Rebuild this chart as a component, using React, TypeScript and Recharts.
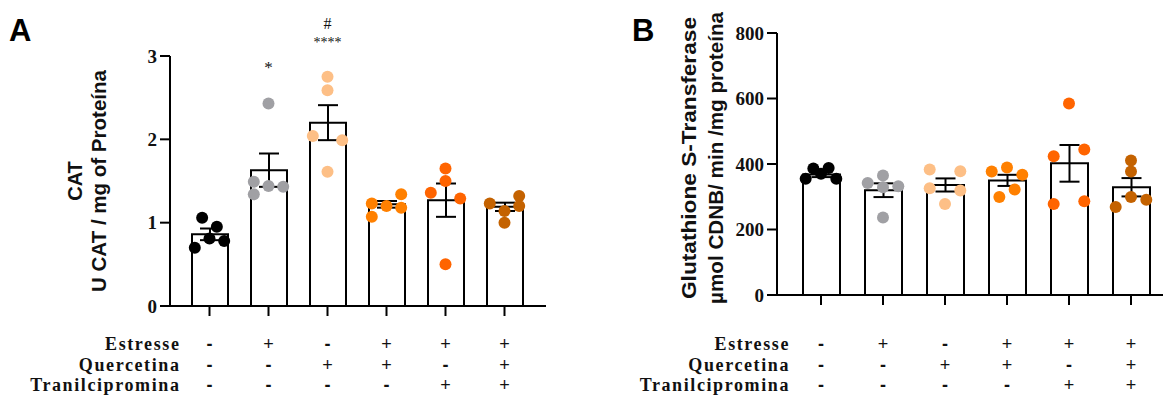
import React from "react";
import { ComposedChart, Bar, ErrorBar, Scatter, XAxis, YAxis, ReferenceDot } from "recharts";

const SERIF = '"Liberation Serif", "Times New Roman", serif';
const SANS = '"Liberation Sans", Arial, sans-serif';

// treatment table under each panel
const groups = ["Controle", "Estresse", "Quercetina", "Estresse+Quercetina", "Estresse+Tranil", "Estresse+Querc+Tranil"];
const estresse = ["-", "+", "-", "+", "+", "+"];
const quercetina = ["-", "-", "+", "+", "-", "+"];
const tranilcipromina = ["-", "-", "-", "-", "+", "+"];
const rowNames = ["Estresse", "Quercetina", "Tranilcipromina"];

const dotColors = ["#000000", "#a0a0a4", "#fdbf86", "#ff8000", "#ff6400", "#c46200"];

// panel A: CAT
const catMean = [0.86, 1.63, 2.2, 1.22, 1.27, 1.19];
const catSem = [0.07, 0.2, 0.21, 0.04, 0.2, 0.05];
const catPts = [
  [1.06, 0.95, 0.81, 0.78, 0.7],
  [2.43, 1.49, 1.44, 1.43, 1.34],
  [2.75, 2.59, 2.04, 1.99, 1.61],
  [1.23, 1.2, 1.34, 1.18, 1.07],
  [1.65, 1.5, 1.36, 1.29, 0.5],
  [1.32, 1.23, 1.2, 1.14, 1.0],
];
const catJitter = [
  [-0.5, 0.5, 0, 1, -1],
  [0, -1, 0, 1, -1],
  [0, 0, -1, 1, 0],
  [-1, 0, 1, 1, -1],
  [0, 0, -1, 1, 0],
  [1, -1, 1, 0, 0],
];
const catTicks = [0, 1, 2, 3];
const catNotes = [
  { g: groups[1], y: 2.87, text: "*", size: 17 },
  { g: groups[2], y: 3.17, text: "****", size: 14 },
  { g: groups[2], y: 3.39, text: "#", size: 16 },
];

// panel B: GST
const gstMean = [368, 320, 336, 350, 402, 329];
const gstSem = [8, 21, 20, 17, 56, 28];
const gstPts = [
  [386, 388, 370, 355, 355],
  [365, 342, 329, 332, 237],
  [383, 378, 326, 319, 278],
  [389, 377, 367, 322, 299],
  [585, 424, 444, 278, 286],
  [411, 377, 299, 291, 269],
];
const gstJitter = [
  [-0.5, 0.5, 0, -1, 1],
  [0, -1, 0, 1, 0],
  [-1, 1, -1, 1, 0],
  [0, -1, 1, 0.5, -0.5],
  [0, -1, 1, -1, 1],
  [0, 0, 0, 1, -1],
];
const gstTicks = [0, 200, 400, 600, 800];

function buildRows(mean: number[], sem: number[], pts: number[][], jit: number[][]) {
  return groups.map((g, i) => {
    const row: any = { g, i, mean: mean[i], sem: sem[i] };
    pts[i].forEach((v, k) => {
      row[`p${k}`] = v;
      row[`j${k}`] = jit[i][k];
    });
    return row;
  });
}

const makeDot = (k: number, spacing: number) => (props: any) => {
  const { cx, cy, payload } = props;
  if (cx == null || cy == null) return <g />;
  return <circle cx={cx + payload[`j${k}`] * spacing} cy={cy} r={6} fill={dotColors[payload.i]} />;
};

const YTick = (props: any) => {
  const { x, y, payload } = props;
  return (
    <text
      x={x}
      y={y}
      textAnchor="end"
      dominantBaseline="central"
      fontFamily={SERIF}
      fontWeight="bold"
      fontSize={19}
      fill="#111"
    >
      {payload.value}
    </text>
  );
};

const makeSignTick = (rowOffsets: number[], labelGap: number) => (props: any) => {
  const { x, y, payload } = props;
  const i = payload?.index ?? props.index;
  const signs = [estresse[i], quercetina[i], tranilcipromina[i]];
  return (
    <g>
      {signs.map((s, r) => (
        <text
          key={r}
          x={x}
          y={y + rowOffsets[r]}
          textAnchor="middle"
          dominantBaseline="central"
          fontFamily={SANS}
          fontWeight={s === "-" ? "bold" : "normal"}
          fontSize={18}
          fill="#111"
        >
          {s}
        </text>
      ))}
      {i === 0 &&
        rowNames.map((n, r) => (
          <text
            key={n}
            x={x - labelGap}
            y={y + rowOffsets[r]}
            textAnchor="end"
            dominantBaseline="central"
            fontFamily={SERIF}
            fontWeight="bold"
            fontSize={18}
            letterSpacing={1.6}
            fill="#111"
          >
            {n}
          </text>
        ))}
    </g>
  );
};

const makeYTitle = (lines: string[], xs: number[], dy: number, lens: number[]) => (props: any) => {
  const vb = props.viewBox || {};
  const cy = (vb.y ?? 0) + (vb.height ?? 0) / 2 + dy;
  return (
    <g>
      {lines.map((l, n) => {
        const x = (vb.x ?? 0) + xs[n];
        return (
          <text
            key={n}
            x={x}
            y={cy}
            transform={`rotate(-90 ${x} ${cy})`}
            textAnchor="middle"
            dominantBaseline="central"
            fontFamily={SANS}
            fontWeight="bold"
            fontSize={20}
            textLength={lens[n] || undefined}
            lengthAdjust="spacingAndGlyphs"
            fill="#111"
          >
            {l}
          </text>
        );
      })}
    </g>
  );
};

type PanelProps = {
  left: number;
  width: number;
  top: number;
  right: number;
  yWidth: number;
  xHeight: number;
  padding: { left: number; right: number };
  barSize: number;
  spacing: number;
  data: any[];
  yMax: number;
  ticks: number[];
  title: string[];
  titleX: number[];
  titleDy: number;
  titleLen: number[];
  rowOffsets: number[];
  labelGap: number;
  notes: { g: string; y: number; text: string; size: number }[];
  letter: string;
  letterX: number;
};

function Panel(p: PanelProps) {
  const axisStyle = { stroke: "#000", strokeWidth: 2 };
  return (
    <div style={{ position: "absolute", left: p.left, top: 0 }}>
      <ComposedChart
        width={p.width}
        height={403}
        data={p.data}
        margin={{ top: p.top, right: p.right, left: 0, bottom: 0 }}
      >
        <XAxis
          dataKey="g"
          height={p.xHeight}
          padding={p.padding}
          axisLine={axisStyle}
          tickLine={axisStyle}
          tickSize={10}
          interval={0}
          tick={makeSignTick(p.rowOffsets, p.labelGap)}
        />
        <YAxis
          width={p.yWidth}
          domain={[0, p.yMax]}
          ticks={p.ticks}
          axisLine={axisStyle}
          tickLine={axisStyle}
          tickSize={10}
          tickMargin={3}
          tick={<YTick />}
          label={{ content: makeYTitle(p.title, p.titleX, p.titleDy, p.titleLen) }}
        />
        <Bar dataKey="mean" barSize={p.barSize} fill="#fff" stroke="#000" strokeWidth={2} isAnimationActive={false}>
          <ErrorBar dataKey="sem" width={10} stroke="#000" strokeWidth={2} direction="y" />
        </Bar>
        {[0, 1, 2, 3, 4].map((k) => (
          <Scatter key={k} dataKey={`p${k}`} shape={makeDot(k, p.spacing)} isAnimationActive={false} />
        ))}
        {p.notes.map((n, idx) => (
          <ReferenceDot
            key={idx}
            x={n.g}
            y={n.y}
            r={0}
            ifOverflow="visible"
            fill="none"
            stroke="none"
            label={{ value: n.text, position: "center", fontSize: n.size, fontFamily: SERIF, fill: "#111" }}
          />
        ))}
      </ComposedChart>
      <div
        style={{
          position: "absolute",
          left: p.letterX,
          top: 13,
          fontFamily: SANS,
          fontWeight: "bold",
          fontSize: 31,
          color: "#000",
        }}
      >
        {p.letter}
      </div>
    </div>
  );
}

export default function App() {
  const catData = buildRows(catMean, catSem, catPts, catJitter);
  const gstData = buildRows(gstMean, gstSem, gstPts, gstJitter);
  return (
    <div style={{ position: "absolute", left: 0, top: 0, width: 1163, height: 403, background: "#fff" }}>
      <Panel
        left={0}
        width={560}
        top={56}
        right={14}
        yWidth={170}
        xHeight={97}
        padding={{ left: 10, right: 12 }}
        barSize={36}
        spacing={14.7}
        data={catData}
        yMax={3}
        ticks={catTicks}
        title={["CAT", "U CAT / mg of Proteína"]}
        titleX={[75, 99]}
        titleDy={0}
        titleLen={[0, 222]}
        rowOffsets={[26, 46.5, 67]}
        labelGap={29}
        notes={catNotes}
        letter="A"
        letterX={9}
      />
      <Panel
        left={600}
        width={563}
        top={33}
        right={0}
        yWidth={177}
        xHeight={108}
        padding={{ left: 13, right: 1 }}
        barSize={37}
        spacing={15.3}
        data={gstData}
        yMax={800}
        ticks={gstTicks}
        title={["Glutathione S-Transferase", "µmol CDNB/ min /mg proteína"]}
        titleX={[89, 116]}
        titleDy={-6}
        titleLen={[282, 292]}
        rowOffsets={[37, 57.5, 78]}
        labelGap={31}
        notes={[]}
        letter="B"
        letterX={32}
      />
    </div>
  );
}
